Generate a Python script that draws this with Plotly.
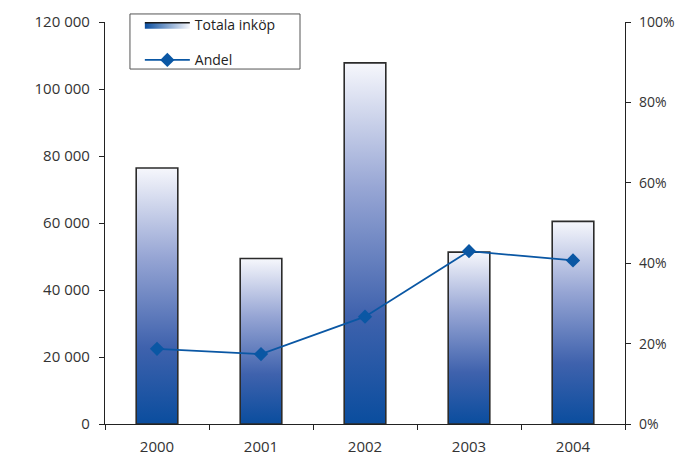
import plotly.graph_objects as go

years = ["2000", "2001", "2002", "2003", "2004"]
totala_inkop = [76400, 49400, 107800, 51300, 60500]
andel = [0.187, 0.174, 0.267, 0.430, 0.407]

y_ticks = [0, 20000, 40000, 60000, 80000, 100000, 120000]
y2_ticks = [0, 0.2, 0.4, 0.6, 0.8, 1.0]

BAR_HALF = 0.2
grad = [[0, "#0a4d9e"], [0.3, "#3f62ad"], [0.65, "#96a5d4"], [1, "#f6f7fc"]]
FONT = "Open Sans"
AX = "#222222"

fig = go.Figure()

xs = list(range(len(years)))
bounds = [x - 0.5 for x in xs] + [xs[-1] + 0.5]

# legend-only swatch with a horizontal gradient
fig.add_trace(go.Scatter(
    x=[None], y=[None], mode="lines", fill="toself",
    fillgradient=dict(type="horizontal", colorscale=[[0, "#0a4d9e"], [1, "#f6f7fc"]]),
    line=dict(color="#1a1a1a", width=1.6),
    name="Totala inköp", legendgroup="a", showlegend=True,
))

for i, (xi, v) in enumerate(zip(xs, totala_inkop)):
    fig.add_trace(go.Scatter(
        x=[xi - BAR_HALF, xi + BAR_HALF, xi + BAR_HALF, xi - BAR_HALF, xi - BAR_HALF],
        y=[0, 0, v, v, 0],
        mode="lines", fill="toself",
        fillgradient=dict(type="vertical", colorscale=grad),
        line=dict(color="#2b2b2b", width=1.6),
        name="Totala inköp", legendgroup="a", showlegend=False,
        hoverinfo="skip",
    ))

fig.add_trace(go.Scatter(
    x=xs, y=andel, yaxis="y2", mode="lines+markers",
    line=dict(color="#0a57a4", width=1.8),
    marker=dict(symbol="diamond", size=11, color="#0a57a4"),
    name="Andel", legendgroup="b",
))

axis_font = dict(family=FONT, size=15, color="#333333")
right_font = dict(family=FONT, size=14, color="#333333")
tick_common = dict(tickcolor=AX, tickwidth=1.2, showgrid=False, zeroline=False)

fig.update_layout(
    width=675, height=455,
    margin=dict(l=105, r=50, t=22, b=31, autoexpand=False),
    paper_bgcolor="white", plot_bgcolor="white",
    separators=". ",
    showlegend=True,
    shapes=[dict(type="rect", xref="paper", yref="paper",
                 x0=0.048, x1=0.375, y0=0.883, y1=1.02,
                 line=dict(color="#555555", width=1), fillcolor="white", layer="above")],
    legend=dict(
        x=0.067, y=1.032, xanchor="left", yanchor="top",
        borderwidth=0, bgcolor="rgba(0,0,0,0)",
        font=dict(family=FONT, size=14, color="#222222"),
        traceorder="grouped", tracegroupgap=14,
        itemwidth=45,
    ),
    xaxis=dict(
        range=[-0.5, 4.5], tickvals=xs, ticktext=years,
        ticks="outside", ticklen=0, ticklabelstandoff=9,
        showline=True, linecolor=AX, linewidth=1.2,
        tickfont=axis_font,
        minor=dict(tickvals=bounds, ticks="outside",
                   ticklen=5, tickcolor=AX, tickwidth=1.2),
        showgrid=False, zeroline=False,
    ),
    xaxis2=dict(
        range=[-0.5, 4.5], overlaying="x", anchor="y", side="bottom",
        tickvals=bounds, ticks="inside", ticklen=4, showticklabels=False,
        showline=False, **tick_common,
    ),
    yaxis=dict(
        range=[0, 120000], tickvals=y_ticks, tickformat=",d",
        ticks="outside", ticklen=5, ticklabelstandoff=6, showline=True,
        linecolor=AX, linewidth=1.2, tickfont=axis_font, **tick_common,
    ),
    yaxis3=dict(
        range=[0, 120000], tickvals=y_ticks, overlaying="y", side="left",
        anchor="x", ticks="inside", ticklen=5, showticklabels=False,
        showline=False, **tick_common,
    ),
    yaxis2=dict(
        range=[0, 1], tickvals=y2_ticks, tickformat=".0%",
        overlaying="y", side="right", anchor="x",
        ticks="outside", ticklen=5, ticklabelstandoff=5, showline=True,
        linecolor=AX, linewidth=1.2, tickfont=right_font, **tick_common,
    ),
    yaxis4=dict(
        range=[0, 1], tickvals=y2_ticks, overlaying="y", side="right",
        anchor="x", ticks="inside", ticklen=5, showticklabels=False,
        showline=False, **tick_common,
    ),
)

fig.write_html("out.html", config={"displayModeBar": False},
               post_script="document.body.style.margin='0';")
